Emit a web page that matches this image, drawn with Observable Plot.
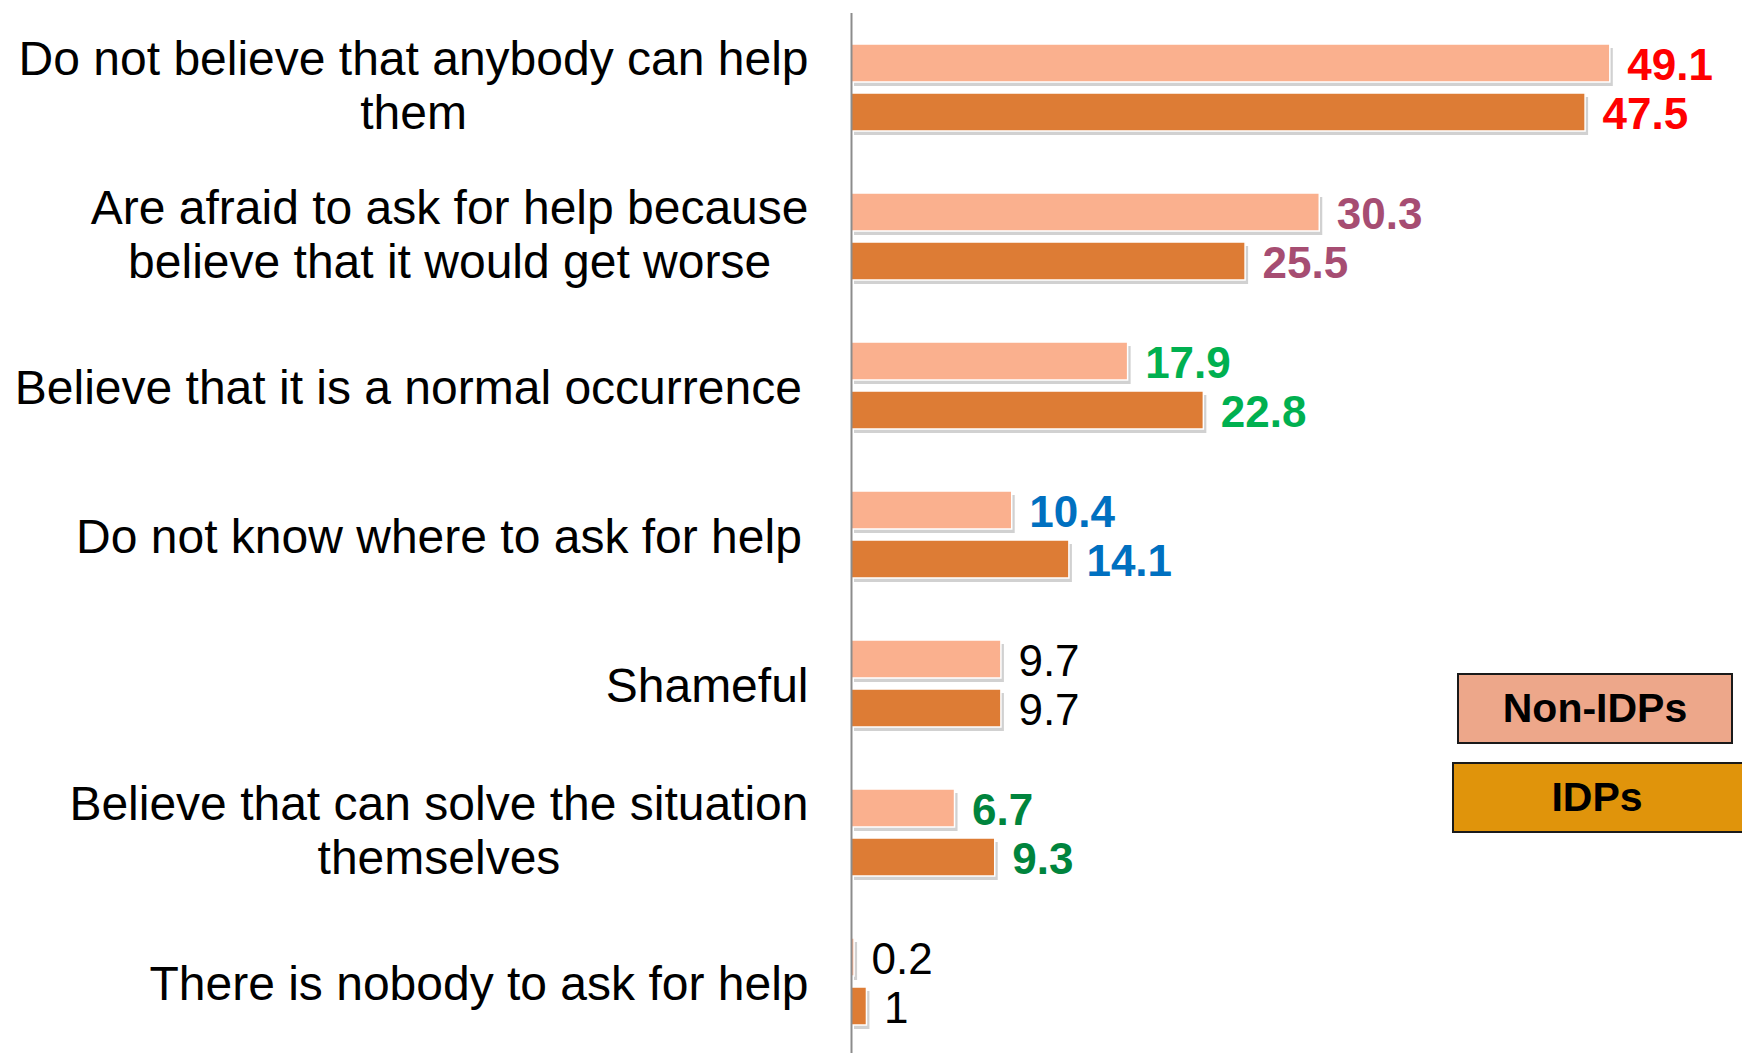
<!DOCTYPE html>
<html>
<head>
<meta charset="utf-8">
<script src="https://cdn.jsdelivr.net/npm/d3@7"></script>
<script src="https://cdn.jsdelivr.net/npm/@observablehq/plot@0.6"></script>
<style>
  html, body { margin: 0; padding: 0; background: #fff; overflow: hidden; }
  #wrap { position: relative; width: 1742px; height: 1053px; }
  .legend { position: absolute; box-sizing: border-box; border: 2px solid #1a1a1a;
    font-family: "Liberation Sans", Arial, sans-serif; font-weight: bold; font-size: 41px;
    display: flex; align-items: center; justify-content: center; color: #000; }
</style>
</head>
<body>
<div id="wrap"></div>
<script>
// ---- data ----
const categories = [
  "Do not believe that anybody can help\nthem",
  "Are afraid to ask for help because\nbelieve that it would get worse",
  "Believe that it is a normal occurrence ",
  "Do not know where to ask for help ",
  "Shameful",
  "Believe that can solve the situation\nthemselves",
  "There is nobody to ask for help"
];
const series = ["Non-IDPs", "IDPs"];
const nonIdpValues = [49.1, 30.3, 17.9, 10.4, 9.7, 6.7, 0.2];
const idpValues = [47.5, 25.5, 22.8, 14.1, 9.7, 9.3, 1];
const labelColors = ["#FF0000", "#A64D72", "#00B050", "#0070C0", "#000000", "#00843D", "#000000"];
const labelBold = [true, true, true, true, false, true, false];
const barColors = ["#FAB08E", "#DD7C35"];
const legendColors = ["#EDA78A", "#E0940B"];

// ---- layout ----
const W = 1742, H = 1058;
const mL = 851, mR = 41, mT = 11, mB = 0;
const xMax = 55;
const ppu = (W - mL - mR) / xMax;
const catFontSize = 48;
const catFont = catFontSize + "px 'Liberation Sans', Arial, sans-serif";

const rows = [];
categories.forEach((c, i) => {
  rows.push({cat: c, series: series[0], value: nonIdpValues[i], color: labelColors[i], bold: labelBold[i], bar: barColors[0]});
  rows.push({cat: c, series: series[1], value: idpValues[i], color: labelColors[i], bold: labelBold[i], bar: barColors[1]});
});

// measure category labels to centre multi-line blocks
const ctx = document.createElement("canvas").getContext("2d");
ctx.font = catFont;
const gapPx = 43;
const catLabels = categories.map(c => {
  const lines = c.split("\n");
  const w = Math.max(...lines.map(l => ctx.measureText(l).width));
  return {cat: c, text: lines.map(l => l.trim()).join("\n"), multi: lines.length > 1, x: -(gapPx + w / 2) / ppu};
});
const catTextOpts = {fy: "cat", x: "x", text: "text", frameAnchor: "middle", textAnchor: "middle",
  lineAnchor: "middle", lineHeight: 1.13, fontSize: catFontSize, fill: "#000"};

const chart = Plot.plot({
  width: W, height: H,
  marginLeft: mL, marginRight: mR, marginTop: mT, marginBottom: mB,
  style: {fontFamily: "'Liberation Sans', Arial, sans-serif", background: "transparent", overflow: "visible"},
  x: {domain: [0, xMax], axis: null},
  y: {domain: series, axis: null, paddingInner: 0.222, paddingOuter: 0.62},
  fy: {domain: categories, axis: null, padding: 0},
  color: {type: "identity"},
  marks: [
    // shadow
    Plot.barX(rows, {fy: "cat", y: "series", x: "value", fill: "#000", fillOpacity: 0.18, dx: 3, dy: 4}),
    Plot.barX(rows, {fy: "cat", y: "series", x: "value", fill: "bar", stroke: "#fff", strokeWidth: 1.5}),
    Plot.ruleX([0], {stroke: "#8c8c8c", strokeWidth: 2}),
    Plot.text(rows.filter(d => d.bold), {fy: "cat", y: "series", x: "value", text: d => String(d.value),
      fill: "color", fontWeight: "bold", fontSize: 44, textAnchor: "start", dx: 17, dy: 2}),
    Plot.text(rows.filter(d => !d.bold), {fy: "cat", y: "series", x: "value", text: d => String(d.value),
      fill: "color", fontSize: 44, textAnchor: "start", dx: 17, dy: 2}),
    Plot.text(catLabels.filter(d => d.multi), {...catTextOpts, dy: -3}),
    Plot.text(catLabels.filter(d => !d.multi), {...catTextOpts, dy: 1})
  ]
});

const wrap = document.getElementById("wrap");
wrap.appendChild(chart);

// legend
const legendBoxes = [
  {left: 1457, top: 673, width: 276, height: 71},
  {left: 1452, top: 762, width: 300, height: 71}
];
series.forEach((s, i) => {
  const d = document.createElement("div");
  d.className = "legend";
  Object.assign(d.style, {left: legendBoxes[i].left + "px", top: legendBoxes[i].top + "px",
    width: legendBoxes[i].width + "px", height: legendBoxes[i].height + "px", background: legendColors[i]});
  if (i === 1) d.style.paddingRight = "10px";
  d.textContent = s;
  wrap.appendChild(d);
});
</script>
</body>
</html>
